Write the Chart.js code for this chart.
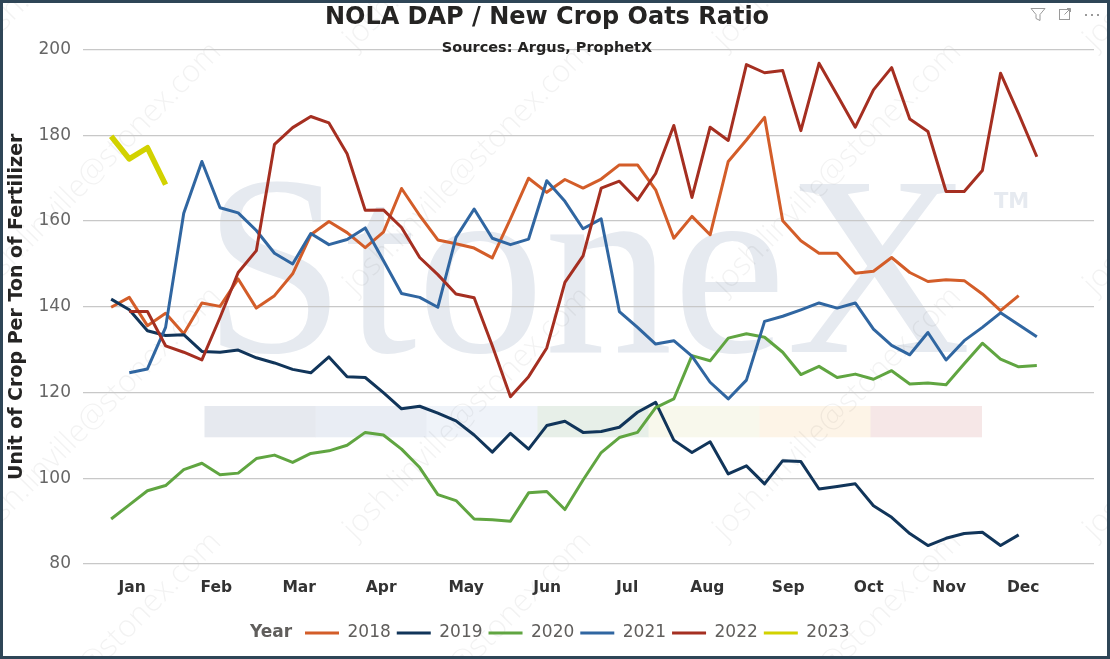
<!DOCTYPE html>
<html>
<head>
<meta charset="utf-8">
<title>NOLA DAP / New Crop Oats Ratio</title>
<script src="https://cdn.jsdelivr.net/npm/chart.js@4.4.0/dist/chart.umd.min.js"></script>
<style>
  html, body { margin: 0; padding: 0; background: #fff; }
  #wrap { width: 1110px; height: 659px; }
</style>
</head>
<body>
<div id="wrap"><canvas id="chart" width="1110" height="659"></canvas></div>
<script>
// week of year for each weekly observation
const weeks = [1, 2, 3, 4, 5, 6, 7, 8, 9, 10, 11, 12, 13, 14, 15, 16, 17, 18, 19, 20, 21, 22, 23, 24, 25, 26,
               27, 28, 29, 30, 31, 32, 33, 34, 35, 36, 37, 38, 39, 40, 41, 42, 43, 44, 45, 46, 47, 48, 49, 50, 51, 52];

const years = ['2018', '2019', '2020', '2021', '2022', '2023'];

const ratio2018 = [139.9, 142.2, 135.6, 138.5, 133.7, 140.9, 140.1, 146.5, 139.7, 142.6,
                   147.7, 156.8, 159.9, 157.3, 153.8, 157.4, 167.6, 161.3, 155.6, 154.7,
                   153.7, 151.4, 160.5, 170.0, 166.7, 169.7, 167.7, 169.8, 173.1, 173.1,
                   167.3, 156.0, 161.1, 156.8, 173.9, 178.9, 184.2, 160.1, 155.4, 152.5,
                   152.5, 147.8, 148.3, 151.5, 148.0, 145.9, 146.3, 146.1, 143.0, 139.1,
                   142.6, null];
const ratio2019 = [141.8, 139.3, 134.4, 133.3, 133.5, 129.6, 129.4, 129.9, 128.1, 126.9,
                   125.4, 124.6, 128.3, 123.7, 123.5, 120.0, 116.2, 116.8, 115.2, 113.4,
                   110.1, 106.1, 110.5, 106.8, 112.3, 113.3, 110.7, 110.9, 111.9, 115.4,
                   117.7, 108.9, 106.0, 108.5, 101.0, 102.9, 98.7, 104.1, 103.9, 97.5,
                   98.1, 98.7, 93.6, 90.9, 87.1, 84.3, 86.0, 87.1, 87.4, 84.3,
                   86.8, null];
const ratio2020 = [90.5, 93.8, 97.1, 98.3, 102.0, 103.5, 100.8, 101.2, 104.6, 105.4,
                   103.7, 105.8, 106.4, 107.7, 110.7, 110.1, 106.8, 102.5, 96.2, 94.8,
                   90.5, 90.3, 90.0, 96.6, 96.9, 92.7, 99.6, 106.0, 109.5, 110.7,
                   116.5, 118.5, 128.6, 127.4, 132.7, 133.7, 132.9, 129.4, 124.2, 126.1,
                   123.5, 124.3, 123.1, 125.1, 122.0, 122.2, 121.8, 126.7, 131.5, 127.8,
                   126.0, 126.3];
const ratio2021 = [null, 124.6, 125.5, 135.2, 161.8, 173.9, 163.1, 161.9, 157.8, 152.5,
                   150.0, 157.1, 154.5, 155.7, 158.4, 150.8, 143.1, 142.2, 139.9, 156.2,
                   162.8, 156.0, 154.5, 155.8, 169.4, 164.6, 158.2, 160.5, 138.9, 135.2,
                   131.3, 132.1, 128.5, 122.4, 118.5, 122.9, 136.6, 137.8, 139.3, 140.9,
                   139.7, 140.9, 134.8, 131.0, 128.8, 134.0, 127.6, 132.1, 135.2, 138.6,
                   135.8, 133.0];
const ratio2022 = [null, 138.9, 138.9, 130.9, 129.4, 127.6, 137.5, 148.0, 153.1, 177.9,
                   181.8, 184.4, 182.9, 175.7, 162.5, 162.6, 158.5, 151.5, 147.5, 143.0,
                   142.1, 130.9, 119.0, 123.7, 130.4, 145.7, 151.9, 167.7, 169.3, 164.9,
                   171.1, 182.3, 165.5, 181.9, 178.8, 196.5, 194.6, 195.1, 181.1, 196.8,
                   189.4, 181.9, 190.6, 195.8, 183.8, 180.9, 166.9, 166.9, 171.8, 194.5,
                   185.0, 175.0];
const ratio2023 = [179.8, 174.5, 177.1, 168.5];

const monthLabels = ['Jan', 'Feb', 'Mar', 'Apr', 'May', 'Jun', 'Jul', 'Aug', 'Sep', 'Oct', 'Nov', 'Dec'];
const monthTickWeeks = [2.16, 6.79, 11.36, 15.88, 20.56, 25.02, 29.43, 33.84, 38.30, 42.74, 47.17, 51.25];

const yTicks = [80, 100, 120, 140, 160, 180, 200];

const lineColors = ['#D35D29', '#11355A', '#60A541', '#3066A1', '#A52F21', '#D2D200'];
const series = [ratio2018, ratio2019, ratio2020, ratio2021, ratio2022, ratio2023];

// watermark, colour band, frame and the inline "Year" legend caption
const decorations = {
    id: 'decorations',
    afterLayout(chart) {
        const lg = chart.legend;
        const shift = 299 - lg.left;
        lg.left += shift;
        lg.right += shift;
    },
    beforeDraw(chart) {
        const ctx = chart.ctx;
        ctx.save();
        ctx.fillStyle = '#fff';
        ctx.fillRect(0, 0, chart.width, chart.height);

        ctx.fillStyle = '#E6EAF0';
        ctx.textBaseline = 'alphabetic';
        ctx.textAlign = 'left';
        ctx.font = '256px "Liberation Serif"';
        ctx.fillText('StoneX', 203, 352);
        ctx.font = 'bold 21px "DejaVu Sans"';
        ctx.fillText('TM', 994, 208);

        const band = ['#E6E9EF', '#E9EDF4', '#EFF3F9', '#E7EFE8', '#F8F8EC', '#FDF4E7', '#F6E7E7'];
        band.forEach((c, k) => {
            ctx.fillStyle = c;
            ctx.fillRect(204.5 + k * 111, 406, 111.5, 31.3);
        });

        ctx.fillStyle = 'rgba(0, 0, 0, 0.05)';
        ctx.font = '300 31px "Open Sans"';
        [50, 295, 540, 785].forEach(y => {
            [-15, 355, 725, 1095].forEach(x => {
                ctx.save();
                ctx.translate(x, y);
                ctx.rotate(-45.5 * Math.PI / 180);
                ctx.fillText('josh.linville@stonex.com', 0, 0);
                ctx.restore();
            });
        });
        ctx.restore();
    },
    afterDraw(chart) {
        const ctx = chart.ctx;
        ctx.save();
        const first = chart.legend.legendHitBoxes[0];
        if (first) {
            ctx.fillStyle = '#605E5C';
            ctx.font = 'bold 17px "DejaVu Sans"';
            ctx.textBaseline = 'middle';
            ctx.textAlign = 'left';
            ctx.fillText('Year', first.left - 55, first.top + first.height / 2);
        }

        // header icons
        ctx.strokeStyle = '#9A9A9A';
        ctx.fillStyle = '#9A9A9A';
        ctx.lineWidth = 1;
        ctx.beginPath();
        ctx.moveTo(1031, 8.5); ctx.lineTo(1045, 8.5); ctx.lineTo(1040, 14.5);
        ctx.lineTo(1040, 20.5); ctx.lineTo(1036, 18.5); ctx.lineTo(1036, 14.5); ctx.closePath();
        ctx.stroke();
        ctx.strokeRect(1059.5, 9.5, 10, 10);
        ctx.beginPath();
        ctx.moveTo(1064.5, 14.5); ctx.lineTo(1070.5, 8.5); ctx.moveTo(1067, 8.5); ctx.lineTo(1070.5, 8.5); ctx.lineTo(1070.5, 12);
        ctx.stroke();
        [1085, 1091, 1097].forEach(x => ctx.fillRect(x, 14, 2, 2));

        ctx.strokeStyle = '#2F4657';
        ctx.lineWidth = 3;
        ctx.strokeRect(1.5, 1.5, chart.width - 3, chart.height - 3);
        ctx.restore();
    }
};

const datasets = years.map((yr, k) => ({
    label: yr,
    data: weeks.map((w, i) => ({ x: w, y: series[k][i] === undefined ? null : series[k][i] })),
    borderColor: lineColors[k],
    backgroundColor: lineColors[k],
    borderWidth: yr === '2023' ? 5.5 : 3,
    borderJoinStyle: 'round',
    pointRadius: 0,
    tension: 0,
    order: years.length - k
}));

new Chart(document.getElementById('chart').getContext('2d'), {
    type: 'line',
    data: { datasets: datasets },
    options: {
        responsive: false,
        animation: false,
        devicePixelRatio: 1,
        events: [],
        layout: { padding: { left: 0, right: 16, top: 0, bottom: 7.5 } },
        scales: {
            x: {
                type: 'linear',
                min: -0.55,
                max: 55.15,
                afterBuildTicks(scale) {
                    scale.ticks = monthTickWeeks.map(v => ({ value: v }));
                },
                afterFit(scale) { scale.height = 54.5; },
                ticks: {
                    callback: (v, i) => monthLabels[i],
                    autoSkip: false,
                    maxRotation: 0,
                    padding: 15,
                    color: '#333333',
                    font: { family: 'DejaVu Sans', size: 15.5, weight: 'bold' }
                },
                grid: { display: false, drawTicks: false },
                border: { display: false }
            },
            y: {
                min: 80,
                max: 200,
                afterBuildTicks(scale) {
                    scale.ticks = yTicks.map(v => ({ value: v }));
                },
                afterFit(scale) { scale.width = 83; },
                ticks: {
                    padding: 12,
                    color: '#666666',
                    font: { family: 'DejaVu Sans', size: 17 }
                },
                grid: { color: '#C8C8C8', lineWidth: 1.3, drawTicks: false },
                border: { display: false },
                title: {
                    display: true,
                    text: 'Unit of Crop Per Ton of Fertilizer',
                    color: '#252423',
                    font: { family: 'DejaVu Sans', size: 19, weight: 'bold' },
                    padding: { top: 6, bottom: 0 }
                }
            }
        },
        plugins: {
            title: {
                display: true,
                text: 'NOLA DAP / New Crop Oats Ratio',
                color: '#252423',
                font: { family: 'DejaVu Sans', size: 24, weight: 'bold' },
                padding: { top: 3, bottom: 3 }
            },
            subtitle: {
                display: true,
                text: 'Sources: Argus, ProphetX',
                color: '#252423',
                font: { family: 'DejaVu Sans', size: 14.5, weight: 'bold' },
                padding: { top: 5, bottom: -7.6 }
            },
            legend: {
                position: 'bottom',
                align: 'start',
                labels: {
                    boxWidth: 34,
                    boxHeight: 3,
                    padding: 6,
                    color: '#605E5C',
                    font: { family: 'DejaVu Sans', size: 17 },
                    generateLabels(chart) {
                        const items = Chart.defaults.plugins.legend.labels.generateLabels(chart);
                        items.sort((a, b) => a.datasetIndex - b.datasetIndex);
                        items.forEach(it => { it.lineWidth = 0; it.fillStyle = it.strokeStyle; });
                        return items;
                    }
                }
            },
            tooltip: { enabled: false }
        }
    },
    plugins: [decorations]
});
</script>
</body>
</html>
